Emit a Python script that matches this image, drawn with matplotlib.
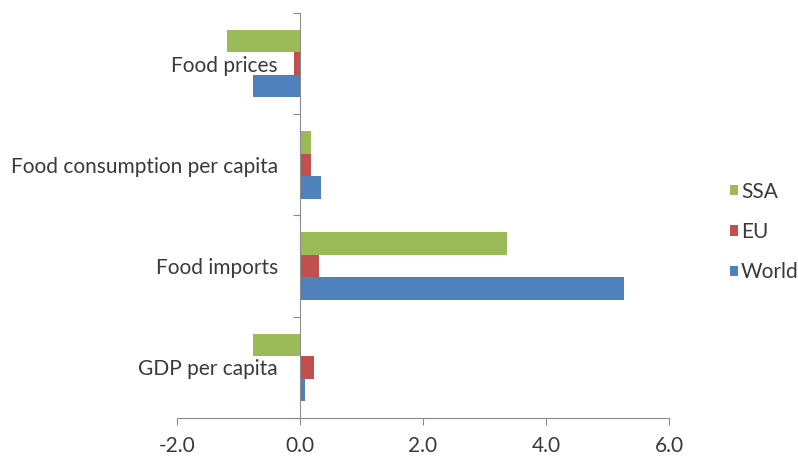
import matplotlib
matplotlib.use("Agg")
import matplotlib.pyplot as plt
import numpy as np

categories = ["GDP per capita", "Food imports", "Food consumption per capita", "Food prices"]
world = [0.08, 5.27, 0.34, -0.76]
eu = [0.23, 0.31, 0.18, -0.10]
ssa = [-0.76, 3.37, 0.18, -1.19]
x_ticks = [-2.0, 0.0, 2.0, 4.0, 6.0]
x_labels = ["-2.0", "0.0", "2.0", "4.0", "6.0"]

plt.rcParams['font.family'] = ['Lato', 'DejaVu Sans']

fig = plt.figure(figsize=(7.98, 4.57), dpi=100)
ax = fig.add_axes([177/798, (457-418)/457, (669-177)/798, (418-13)/457])

y = np.arange(len(categories))
h = 0.223
c_world = "#4F81BD"
c_eu = "#C0504D"
c_ssa = "#9BBB59"
ax.barh(y - h, world, height=h, color=c_world, label="World")
ax.barh(y, eu, height=h, color=c_eu, label="EU")
ax.barh(y + h, ssa, height=h, color=c_ssa, label="SSA")

ax.set_xlim(-2, 6)
ax.set_ylim(-0.5, 3.5)

axis_color = "#8C8C8C"
text_color = "#3A3A3A"
fs = 15
for s in ["top", "right"]:
    ax.spines[s].set_visible(False)
ax.spines["left"].set_position(("data", 0))
ax.spines["left"].set_color(axis_color)
ax.spines["bottom"].set_color(axis_color)

ax.set_xticks(x_ticks)
ax.set_xticklabels(x_labels, fontsize=fs, color=text_color)
ax.tick_params(axis="x", direction="out", length=5, color=axis_color, pad=8)

ax.set_yticks(np.arange(-0.5, 4.0, 1.0))
ax.set_yticklabels([])
ax.tick_params(axis="y", which="major", direction="out", length=5, color=axis_color)
ax.set_yticks(y, minor=True)
ax.set_yticklabels(categories, minor=True, fontsize=fs, color=text_color)
ax.tick_params(axis="y", which="minor", length=0, pad=16)

handles, labels = ax.get_legend_handles_labels()
leg = fig.legend(handles[::-1], labels[::-1], loc="center left",
                 bbox_to_anchor=(730/798, 1 - 232/457), frameon=False,
                 borderpad=0, borderaxespad=0,
                 fontsize=fs, handlelength=0.37, handleheight=0.37,
                 handletextpad=0.15, labelspacing=0.98, labelcolor=text_color)

fig.savefig("out.png", dpi=100)
